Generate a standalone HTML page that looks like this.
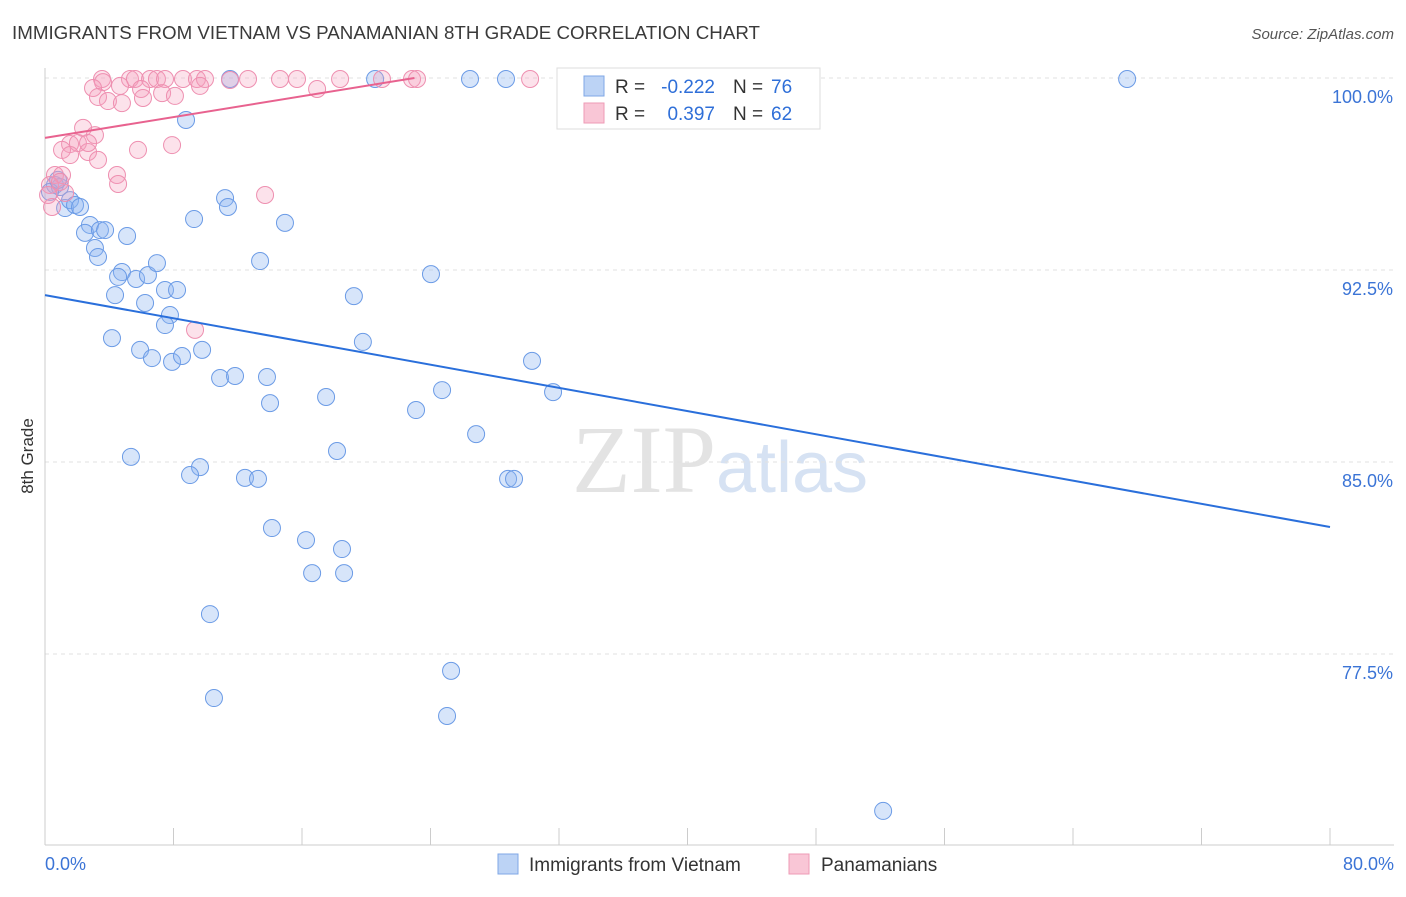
<!DOCTYPE html>
<html><head><meta charset="utf-8"><style>
body{margin:0;background:#fff;font-family:"Liberation Sans",sans-serif}
</style></head><body>
<svg id="chart" width="1406" height="892" xmlns="http://www.w3.org/2000/svg" font-family="Liberation Sans, sans-serif">
<text x="12" y="39" font-size="18.75" fill="#3a3a3a">IMMIGRANTS FROM VIETNAM VS PANAMANIAN 8TH GRADE CORRELATION CHART</text>
<text x="1394" y="39" font-size="15" fill="#555" text-anchor="end" font-style="italic">Source: ZipAtlas.com</text>
<text x="720" y="492" font-size="96" text-anchor="middle" fill="#e3e3e3" font-family="Liberation Serif, serif">ZIP<tspan fill="#d6e2f3" font-family="Liberation Sans, sans-serif" font-size="72">atlas</tspan></text>
<g id="grid"></g><g id="axes"></g><g id="pts"></g><g id="lines"></g>
<text transform="translate(33,456) rotate(-90)" font-size="17" fill="#333" text-anchor="middle">8th Grade</text>
<g>
<rect x="557" y="68" width="263" height="61" fill="#fff" stroke="#ddd"/>
<rect x="584" y="76" width="20" height="20" fill="#bcd3f5" stroke="#7fa7e6"/>
<rect x="584" y="103" width="20" height="20" fill="#f9c6d6" stroke="#ee9bb6"/>
<text x="615" y="93" font-size="19" fill="#333">R =</text>
<text x="715" y="93" font-size="19" fill="#2f6fd8" text-anchor="end">-0.222</text>
<text x="733" y="93" font-size="19" fill="#333">N =</text>
<text x="771" y="93" font-size="19" fill="#2f6fd8">76</text>
<text x="615" y="120" font-size="19" fill="#333">R =</text>
<text x="715" y="120" font-size="19" fill="#2f6fd8" text-anchor="end">0.397</text>
<text x="733" y="120" font-size="19" fill="#333">N =</text>
<text x="771" y="120" font-size="19" fill="#2f6fd8">62</text>
</g>
<g>
<rect x="498" y="854" width="20" height="20" fill="#bcd3f5" stroke="#7fa7e6"/>
<text x="529" y="871" font-size="19" fill="#333">Immigrants from Vietnam</text>
<rect x="789" y="854" width="20" height="20" fill="#f9c6d6" stroke="#ee9bb6"/>
<text x="821" y="871" font-size="19" fill="#333">Panamanians</text>
</g>
</svg>
<script>
const yTicks=[100,92.5,85,77.5];
const yTickLabels=["100.0%","92.5%","85.0%","77.5%"];
const xTickLabels=["0.0%","80.0%"];
const blueX=[.62,.93,.31,.81,1.25,1.56,1.87,2.18,2.80,2.49,3.42,3.74,3.11,3.30,5.11,4.79,4.55,5.67,4.36,6.41,6.97,6.23,7.47,8.22,7.78,7.47,4.17,5.92,6.66,7.91,8.53,9.78,10.90,11.83,13.82,14.01,8.78,9.28,11.21,11.39,14.94,13.39,11.52,20.55,26.46,28.70,43.28,67.37,24.03,19.23,19.79,30.32,31.63,24.72,23.10,17.50,26.84,18.18,5.35,9.65,9.03,12.45,13.26,28.83,29.20,14.13,16.25,18.49,16.63,18.62,10.27,25.28,10.52,25.03,52.18];
const blueY=[95.82,95.74,95.55,96.02,94.92,95.23,95.04,94.96,94.26,93.95,94.06,94.06,93.36,93.01,93.83,92.42,92.23,92.15,91.52,92.30,92.77,91.21,91.72,91.72,90.74,90.35,89.84,89.38,89.06,88.91,89.14,89.38,88.28,88.36,88.32,87.30,98.36,94.49,95.31,94.96,94.34,92.85,99.96,99.96,99.96,99.96,99.96,99.96,92.34,91.48,89.69,88.95,87.73,87.81,87.03,87.54,86.09,85.43,85.20,84.80,84.49,84.38,84.34,84.34,84.34,82.42,81.95,81.60,80.66,80.66,79.06,76.84,75.78,75.08,71.37];
const pinkX=[3.55,5.29,5.60,6.54,6.97,7.47,8.59,9.46,9.96,12.64,14.63,15.69,18.37,20.98,22.85,23.16,30.20,41.91,3.61,9.65,4.67,2.99,5.98,7.29,8.09,3.30,3.92,4.79,6.10,16.94,2.37,3.11,1.56,2.05,2.68,1.06,1.56,3.30,5.79,7.91,4.48,4.55,.62,1.06,.31,.19,.44,1.25,13.70,9.34,.93,2.68,11.52];
const pinkY=[99.96,99.96,99.96,99.96,99.96,99.96,99.96,99.96,99.96,99.96,99.96,99.96,99.96,99.96,99.96,99.96,99.96,99.96,99.84,99.69,99.69,99.61,99.57,99.41,99.30,99.26,99.10,99.02,99.22,99.57,98.05,97.77,97.42,97.46,97.11,97.19,96.99,96.80,97.19,97.38,96.21,95.86,96.21,96.21,95.82,95.43,94.96,95.51,95.43,90.16,95.94,97.46,99.92];
const blueTrend=[0,91.52,80,82.46];
const pinkTrend=[0,97.66,23,100];
const NS="http://www.w3.org/2000/svg";
const xs=v=>45+v*1285/80, ys=v=>78+(100-v)*25.6;
function mk(parent,tag,attrs){const e=document.createElementNS(NS,tag);for(const k in attrs)e.setAttribute(k,attrs[k]);document.getElementById(parent).appendChild(e);return e;}
yTicks.forEach((t,i)=>{
 const l=mk('grid','line',{x1:45,x2:1394,y1:ys(t),y2:ys(t),stroke:'#e2e2e2','stroke-dasharray':'4 4'});
 
 
 const tx=mk('grid','text',{x:1393,y:ys(t)+25,'font-size':18,fill:'#3b74d6','text-anchor':'end'});tx.textContent=yTickLabels[i];
 
 
});
const ax=mk('axes','line',{x1:45,x2:45,y1:68,y2:845,stroke:'#ccc'});


const bx=mk('axes','line',{x1:45,x2:1394,y1:845,y2:845,stroke:'#ccc'});


for(let i=0;i<=10;i++){const t=mk('axes','line',{x1:xs(i*8),x2:xs(i*8),y1:828,y2:845,stroke:'#ccc'});
 
 }
[[0,'start',45],[80,'end',1394]].forEach((d,i)=>{const t=mk('axes','text',{x:d[2],y:870,'font-size':18,fill:'#3b74d6','text-anchor':d[1]});t.textContent=xTickLabels[i];
 
 });
blueX.forEach((x,i)=>{const c=mk('pts','circle',{cx:xs(x),cy:ys(blueY[i]),r:8.5,fill:'rgba(140,180,240,0.35)',stroke:'#6b9be6','stroke-width':1});
 
 });
pinkX.forEach((x,i)=>{const c=mk('pts','circle',{cx:xs(x),cy:ys(pinkY[i]),r:8.5,fill:'rgba(245,160,190,0.3)',stroke:'#ee8fb0','stroke-width':1});
 
 });
const bl=mk('lines','line',{x1:xs(blueTrend[0]),y1:ys(blueTrend[1]),x2:xs(blueTrend[2]),y2:ys(blueTrend[3]),stroke:'#2a6fdb','stroke-width':2});


const pl=mk('lines','line',{x1:xs(pinkTrend[0]),y1:ys(pinkTrend[1]),x2:xs(pinkTrend[2]),y2:ys(pinkTrend[3]),stroke:'#e8628f','stroke-width':2});


</script>
</body></html>
